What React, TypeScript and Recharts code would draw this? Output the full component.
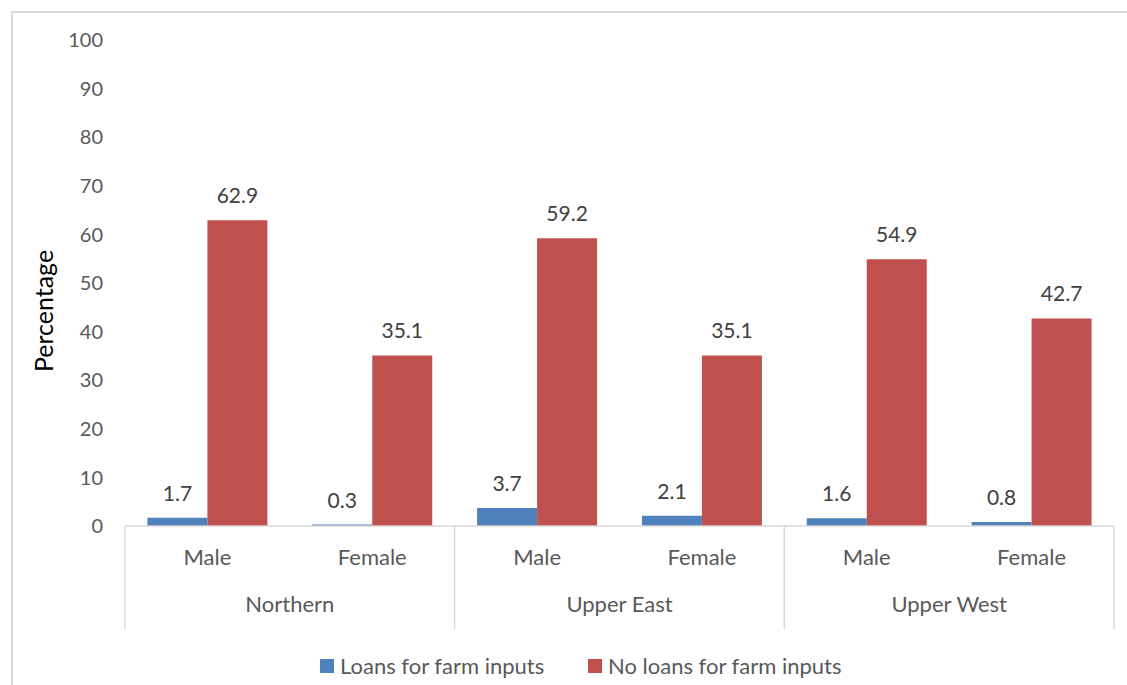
import React from 'react';
import { BarChart, Bar, XAxis, YAxis, Legend, LabelList } from 'recharts';

// Figures per region and sex (percent of farmers)
const sexes = ['Male', 'Female', 'Male', 'Female', 'Male', 'Female'];
const regions = ['Northern', 'Northern', 'Upper East', 'Upper East', 'Upper West', 'Upper West'];
const loans = [1.7, 0.3, 3.7, 2.1, 1.6, 0.8];
const noLoans = [62.9, 35.1, 59.2, 35.1, 54.9, 42.7];
const yTicks = [0, 10, 20, 30, 40, 50, 60, 70, 80, 90, 100];

const seriesNames = ['Loans for farm inputs', 'No loans for farm inputs'];
const BLUE = '#4F81BD';
const RED = '#C0504D';

const W = 1127;
const H = 685;
const MARGIN = { top: 40, right: 13, left: 0, bottom: 0 };
const Y_AXIS_W = 125;
const X_AXIS_H = 105;
const LEGEND_H = 54;
const PLOT_W = W - MARGIN.left - MARGIN.right - Y_AXIS_W;
const BAND = PLOT_W / sexes.length;
const FONT = 'Lato, "Open Sans", sans-serif';

const data = sexes.map((sex, i) => ({
  id: `${regions[i]}-${sex}`,
  sex,
  region: regions[i],
  loans: loans[i],
  noLoans: noLoans[i],
}));

// Two-level category tick: sex label, plus region label and dividers per group
const GroupedTick = (props: any) => {
  const { x, y, index } = props;
  const row = data[index];
  const first = index === 0 || data[index - 1].region !== row.region;
  const last = index === data.length - 1;
  const lineColor = '#d9d9d9';
  return (
    <g>
      <text x={x} y={y + 39} textAnchor="middle" fill="#595959" fontSize={22}>
        {row.sex}
      </text>
      {first && (
        <>
          <line x1={x - BAND / 2} x2={x - BAND / 2} y1={y} y2={y + 103} stroke={lineColor} strokeWidth={1.5} />
          <text x={x + BAND / 2} y={y + 86} textAnchor="middle" fill="#595959" fontSize={22}>
            {row.region}
          </text>
        </>
      )}
      {last && (
        <line x1={x + BAND / 2} x2={x + BAND / 2} y1={y} y2={y + 103} stroke={lineColor} strokeWidth={1.5} />
      )}
    </g>
  );
};

const AxisTitle = () => (
  <text
    x={53}
    y={311}
    transform="rotate(-90 53 311)"
    textAnchor="middle"
    fill="#000"
    fontSize={25}
  >
    Percentage
  </text>
);

const LegendBox = () => (
  <div style={{ height: LEGEND_H, position: 'relative', fontFamily: FONT, fontSize: 22, color: '#595959' }}>
    {[BLUE, RED].map((c, i) => (
      <div
        key={i}
        style={{ position: 'absolute', left: i === 0 ? 320 : 588, top: 24, display: 'flex', alignItems: 'center', whiteSpace: 'nowrap' }}
      >
        <span style={{ display: 'inline-block', width: 14, height: 14, background: c, marginRight: 6 }} />
        <span style={{ lineHeight: '22px' }}>{seriesNames[i]}</span>
      </div>
    ))}
  </div>
);

const App: React.FC = () => {
  return (
    <div
      style={{
        position: 'fixed',
        left: 0,
        top: 0,
        width: W,
        height: H,
        overflow: 'hidden',
        background: '#fff',
        fontFamily: FONT,
      }}
    >
      <div
        style={{
          position: 'absolute',
          left: 11,
          top: 11,
          width: W,
          height: H,
          borderTop: '2px solid #d9d9d9',
          borderLeft: '2px solid #d9d9d9',
        }}
      />
      <div style={{ position: 'absolute', left: 0, top: 0 }}>
        <BarChart
          width={W}
          height={H}
          data={data}
          margin={MARGIN}
          barCategoryGap="13.6%"
          barGap={0}
        >
          <XAxis
            dataKey="id"
            height={X_AXIS_H}
            interval={0}
            tickLine={false}
            tickSize={0}
            tickMargin={0}
            axisLine={{ stroke: '#d9d9d9', strokeWidth: 1.5 }}
            tick={<GroupedTick />}
          />
          <YAxis
            width={Y_AXIS_W}
            domain={[0, 100]}
            ticks={yTicks}
            interval={0}
            axisLine={false}
            tickLine={false}
            tickSize={0}
            tickMargin={22}
            tick={{ fill: '#595959', fontSize: 20 }}
            label={<AxisTitle />}
          />
          <Legend verticalAlign="bottom" height={LEGEND_H} content={<LegendBox />} />
          <Bar dataKey="loans" name={seriesNames[0]} fill={BLUE} isAnimationActive={false}>
            <LabelList dataKey="loans" position="top" offset={17} fill="#404040" fontSize={21} />
          </Bar>
          <Bar dataKey="noLoans" name={seriesNames[1]} fill={RED} isAnimationActive={false}>
            <LabelList dataKey="noLoans" position="top" offset={17} fill="#404040" fontSize={21} />
          </Bar>
        </BarChart>
      </div>
    </div>
  );
};

export default App;
